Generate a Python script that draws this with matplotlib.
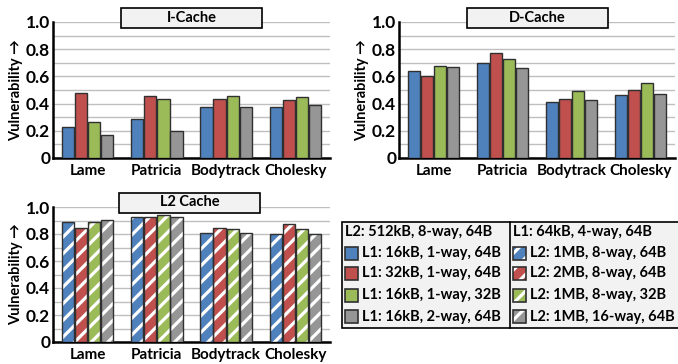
import numpy as np
import matplotlib
matplotlib.use("Agg")
import matplotlib.pyplot as plt
from matplotlib.patches import Rectangle

plt.rcParams['font.family'] = ['Lato', 'DejaVu Sans']
plt.rcParams['font.weight'] = 'bold'
plt.rcParams['hatch.linewidth'] = 2.3

# data
benchmarks = ['Lame', 'Patricia', 'Bodytrack', 'Cholesky']
l1_configs = ['L1: 16kB, 1-way, 64B', 'L1: 32kB, 1-way, 64B',
              'L1: 16kB, 1-way, 32B', 'L1: 16kB, 2-way, 64B']
l2_configs = ['L2: 1MB, 8-way, 64B', 'L2: 2MB, 8-way, 64B',
              'L2: 1MB, 8-way, 32B', 'L2: 1MB, 16-way, 64B']
l1_header = 'L2: 512kB, 8-way, 64B'
l2_header = 'L1: 64kB, 4-way, 64B'

icache = [[0.225, 0.29, 0.372, 0.372],
          [0.48, 0.453, 0.431, 0.424],
          [0.262, 0.436, 0.458, 0.451],
          [0.169, 0.20, 0.372, 0.387]]
dcache = [[0.64, 0.696, 0.409, 0.461],
          [0.605, 0.772, 0.434, 0.498],
          [0.674, 0.725, 0.493, 0.549],
          [0.667, 0.662, 0.424, 0.471]]
l2cache = [[0.892, 0.924, 0.808, 0.803],
           [0.848, 0.926, 0.845, 0.875],
           [0.889, 0.939, 0.838, 0.835],
           [0.907, 0.926, 0.808, 0.803]]

colors = ['#4F81BD', '#C0504D', '#9BBB59', '#969696']
edge = '#303030'

W, H = 678, 364
fig = plt.figure(figsize=(W / 100, H / 100), dpi=100)


def px_axes(x0, x1, ytop, ybot):
    return fig.add_axes([x0 / W, (H - ybot) / H, (x1 - x0) / W, (ybot - ytop) / H])


def draw_panel(ax, vals, hatched=False):
    x = np.arange(len(benchmarks))
    bw = 0.19
    for i, v in enumerate(vals):
        pos = x + (i - 1.5) * bw
        if hatched:
            ax.bar(pos, v, width=bw * 0.93, color=colors[i], edgecolor='white',
                   hatch='//', linewidth=0, zorder=3)
            ax.bar(pos, v, width=bw * 0.93, fill=False, edgecolor=edge,
                   linewidth=1.0, zorder=4)
        else:
            ax.bar(pos, v, width=bw * 0.93, color=colors[i], edgecolor=edge,
                   linewidth=1.0, zorder=3)
    ax.set_xlim(-0.5, 3.5)
    ax.set_ylim(0, 1.0)
    ax.set_yticks(np.arange(0, 1.01, 0.2))
    ax.set_yticklabels(['0', '0.2', '0.4', '0.6', '0.8', '1.0'], fontsize=12.5, fontweight='bold')
    ax.set_yticks(np.arange(0.1, 1.0, 0.2), minor=True)
    ax.set_xticks(x)
    ax.set_xticklabels(benchmarks, fontsize=11, fontweight='bold')
    ax.tick_params(axis='x', length=0, pad=4)
    ax.tick_params(axis='y', which='both', length=0, pad=2)
    ax.grid(axis='y', which='both', color='#BFBFBF', linewidth=1, zorder=0)
    ax.set_axisbelow(True)
    for s in ['top', 'right']:
        ax.spines[s].set_visible(False)
    ax.spines['left'].set_linewidth(1.8)
    ax.spines['bottom'].set_linewidth(1.8)
    ax.set_ylabel('Vulnerability \u2192', fontsize=10.5, fontweight='bold', labelpad=2)


def title_box(cx, cy, text):
    bw, bh = 141, 20
    fig.add_artist(Rectangle(((cx - bw / 2) / W, (H - cy - bh / 2) / H), bw / W, bh / H,
                             transform=fig.transFigure, facecolor='#F2F2F2',
                             edgecolor='black', linewidth=1.2, zorder=10))
    fig.text(cx / W, (H - cy) / H, text, ha='center', va='center', fontsize=10.5,
             fontweight='bold', zorder=11)


ax1 = px_axes(53, 330, 22, 158)
draw_panel(ax1, icache)
ax2 = px_axes(399, 675, 22, 158)
draw_panel(ax2, dcache)
ax3 = px_axes(53, 330, 207, 342)
draw_panel(ax3, l2cache, hatched=True)

title_box(191.5, 18, 'I-Cache')
title_box(537.5, 18, 'D-Cache')
title_box(190, 202.5, 'L2 Cache')

# legend box
lx0, lx1, ly0, ly1 = 342, 679, 222, 328
fig.add_artist(Rectangle((lx0 / W, (H - ly1) / H), (lx1 - lx0) / W, (ly1 - ly0) / H,
                         transform=fig.transFigure, facecolor='#F2F2F2',
                         edgecolor='black', linewidth=1.2, zorder=1))
fig.add_artist(plt.Line2D([510 / W, 510 / W], [(H - ly1) / H, (H - ly0) / H],
                          transform=fig.transFigure, color='black', linewidth=1.2))

rows = [253, 273.5, 295, 316.5]
for xm, header, labels, hatched in [(345, l1_header, l1_configs, False),
                                    (513, l2_header, l2_configs, True)]:
    fig.text(xm / W, (H - 232) / H, header, ha='left', va='center', fontsize=10.5,
             fontweight='bold')
    for i, lab in enumerate(labels):
        yc = rows[i]
        fig.add_artist(Rectangle((xm / W, (H - yc - 6.5) / H), 13 / W, 13 / H,
                                 transform=fig.transFigure, facecolor=colors[i],
                                 edgecolor='white' if hatched else edge,
                                 hatch='//' if hatched else None,
                                 linewidth=0 if hatched else 1.2, zorder=3))
        if hatched:
            fig.add_artist(Rectangle((xm / W, (H - yc - 6.5) / H), 13 / W, 13 / H,
                                     transform=fig.transFigure, fill=False,
                                     edgecolor=edge, linewidth=1.2, zorder=4))
        fig.text((xm + 17) / W, (H - yc) / H, lab, ha='left', va='center',
                 fontsize=10.5, fontweight='bold')

fig.savefig('out.png', dpi=100)
